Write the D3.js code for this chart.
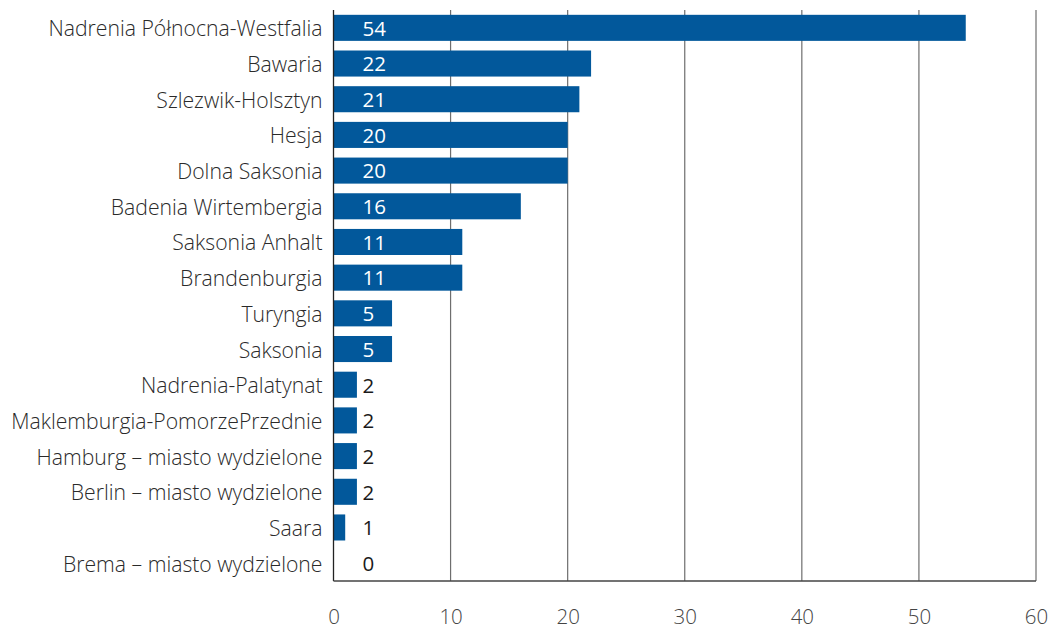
<!DOCTYPE html>
<html>
<head>
<meta charset="utf-8">
<script src="https://cdn.jsdelivr.net/npm/d3@7"></script>
<style>
  html, body { margin: 0; padding: 0; background: #fff; }
  svg text { font-family: "Open Sans", "Noto Sans", sans-serif; }
</style>
</head>
<body>
<svg id="chart" width="1049" height="629"></svg>
<script>
// Liczba placówek według krajów związkowych
const categories = [
  "Nadrenia Północna-Westfalia",
  "Bawaria",
  "Szlezwik-Holsztyn",
  "Hesja",
  "Dolna Saksonia",
  "Badenia Wirtembergia",
  "Saksonia Anhalt",
  "Brandenburgia",
  "Turyngia",
  "Saksonia",
  "Nadrenia-Palatynat",
  "Maklemburgia-PomorzePrzednie",
  "Hamburg – miasto wydzielone",
  "Berlin – miasto wydzielone",
  "Saara",
  "Brema – miasto wydzielone"
];
const values = [54, 22, 21, 20, 20, 16, 11, 11, 5, 5, 2, 2, 2, 2, 1, 0];
const tickValues = [0, 10, 20, 30, 40, 50, 60];

const svg = d3.select("#chart");
const margin = { top: 10, left: 333.5, right: 13, bottom: 48 };
const W = 1049, H = 629;

const x = d3.scaleLinear().domain([0, 60]).range([margin.left, W - margin.right]);
const y = d3.scaleBand().domain(categories).range([margin.top, H - margin.bottom]).paddingInner(0.27).paddingOuter(0.135);

// pionowe linie siatki
svg.append("g")
  .selectAll("line")
  .data(tickValues.filter(d => d > 0))
  .join("line")
  .attr("x1", d => x(d)).attr("x2", d => x(d))
  .attr("y1", margin.top).attr("y2", H - margin.bottom)
  .attr("stroke", "#6e6e6e").attr("stroke-width", 1.2);

// słupki
svg.append("g")
  .selectAll("rect")
  .data(categories)
  .join("rect")
  .attr("x", x(0))
  .attr("y", d => y(d))
  .attr("width", (d, i) => x(values[i]) - x(0))
  .attr("height", y.bandwidth())
  .attr("fill", "#02589b");

// osie
svg.append("line")
  .attr("x1", x(0)).attr("x2", x(0))
  .attr("y1", margin.top).attr("y2", H - margin.bottom)
  .attr("stroke", "#222").attr("stroke-width", 1.3);
svg.append("line")
  .attr("x1", x(0)).attr("x2", x(60))
  .attr("y1", H - margin.bottom).attr("y2", H - margin.bottom)
  .attr("stroke", "#444").attr("stroke-width", 1.3);

// etykiety osi X
const xAxis = svg.append("g")
  .attr("transform", `translate(0,${H - margin.bottom})`)
  .call(d3.axisBottom(x).tickValues(tickValues).tickSize(0).tickPadding(28));
xAxis.select(".domain").remove();
xAxis.selectAll("text")
  .attr("font-size", 20.5)
  .attr("font-weight", 300)
  .attr("fill", "#444")
  .style("font-family", "'Open Sans', 'Noto Sans', sans-serif");

// etykiety kategorii
const yAxis = svg.append("g")
  .attr("transform", `translate(${x(0)},0)`)
  .call(d3.axisLeft(y).tickSize(0).tickPadding(11));
yAxis.select(".domain").remove();
yAxis.selectAll("text")
  .attr("font-size", 21.2)
  .attr("font-weight", 300)
  .attr("dy", "0.4em")
  .attr("fill", "#2a2a2a")
  .style("font-family", "'Open Sans', 'Noto Sans', sans-serif");

// wartości
svg.append("g")
  .selectAll("text")
  .data(categories)
  .join("text")
  .attr("x", x(0) + 29)
  .attr("y", d => y(d) + y.bandwidth() / 2)
  .attr("dy", "0.38em")
  .attr("font-size", 20.5)
  .attr("fill", (d, i) => values[i] >= 5 ? "#ffffff" : "#1a1a1a")
  .text((d, i) => values[i]);
</script>
</body>
</html>
